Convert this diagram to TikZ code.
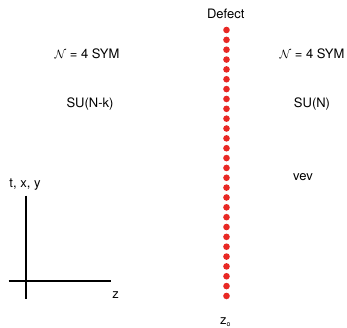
\documentclass[tikz,border=0pt]{standalone}
\usepackage{fontspec}
\setmainfont{TeX Gyre Heros}
\definecolor{dotred}{RGB}{232,40,36}
\begin{document}
\begin{tikzpicture}[x=1pt,y=-1pt,
  lbl/.style={inner sep=0pt,font=\fontsize{13}{15}\selectfont},
  axis/.style={line width=1.8pt},
  defdot/.style={circle,fill=dotred,inner sep=0pt,minimum size=6.6pt}]
\useasboundingbox (0,0) rectangle (347,327);
\node[lbl] (defect) at (225.7,13.5) {Defect};
\node[lbl] (symL) at (87,54) {$\mathcal{N}$ = 4 SYM};
\node[lbl] (symR) at (312,54) {$\mathcal{N}$ = 4 SYM};
\node[lbl] (suL) at (90,104) {SU(N-k)};
\node[lbl] (suR) at (312,104) {SU(N)};
\node[lbl] (vev) at (303,177) {vev};
\node[lbl] (txy) at (25,185) {t, x, y};
\node[lbl] (zlab) at (115.7,295) {z};
\node[lbl] (z0) at (225.5,322.5) {z\textsubscript{\scriptsize o}};
\coordinate (vtop) at (26,195.5);
\coordinate (vbot) at (26,299);
\coordinate (hl) at (8.5,280.7);
\coordinate (hr) at (111,280.7);
\draw[axis] (vtop) -- (vbot);
\draw[axis] (hl) -- (hr);
\foreach \i in {0,...,27} {
  \node[defdot] (d\i) at (226.5,{30+\i*9.85}) {};
}
\end{tikzpicture}
\end{document}
